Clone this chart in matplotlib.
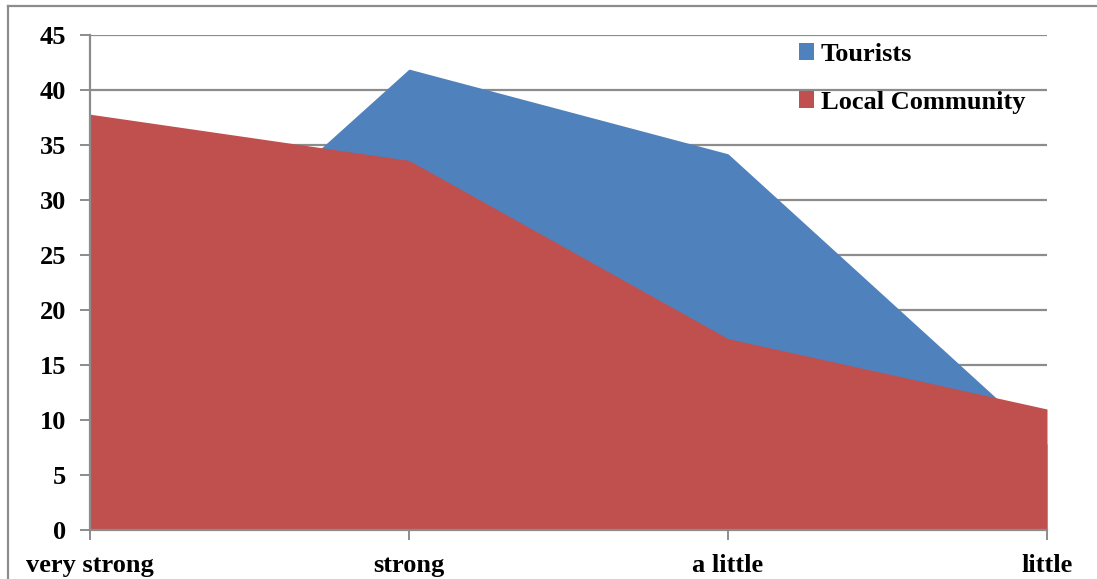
import matplotlib.pyplot as plt
from matplotlib.patches import Patch
from matplotlib.lines import Line2D

# data
categories = ['very strong', 'strong', 'a little', 'little']
tourists = [15.8, 41.9, 34.2, 7.8]
local_community = [37.8, 33.6, 17.4, 11.0]

blue = '#4F81BD'
red = '#C0504D'
grid_gray = '#8C8C8C'

plt.rcParams['font.family'] = ['Liberation Serif', 'DejaVu Serif']
plt.rcParams['font.weight'] = 'bold'

fig = plt.figure(figsize=(10.97, 5.79), dpi=100)
ax = fig.add_axes([90 / 1097, 1 - 530 / 579, (1047 - 90) / 1097, (530 - 35) / 579])

x = list(range(len(categories)))
ax.fill_between(x, 0, tourists, color=blue, linewidth=0, zorder=2)
ax.fill_between(x, 0, local_community, color=red, linewidth=0, zorder=3)

ax.set_xlim(0, len(categories) - 1)
ax.set_ylim(0, 45)
ax.set_yticks(range(0, 46, 5))
ax.set_xticks(x)
ax.set_xticklabels(categories)

ax.yaxis.grid(True, color=grid_gray, linewidth=1.6, zorder=1)
ax.set_axisbelow(True)
for side in ['top', 'right']:
    ax.spines[side].set_visible(False)
for side in ['left', 'bottom']:
    ax.spines[side].set_color(grid_gray)
    ax.spines[side].set_linewidth(1.6)
    ax.spines[side].set_zorder(4)

ax.tick_params(axis='both', colors=grid_gray, labelcolor='black', labelsize=19,
               length=7, width=1.4)
ax.tick_params(axis='y', pad=10)
ax.tick_params(axis='x', pad=10)
for lbl in ax.get_xticklabels() + ax.get_yticklabels():
    lbl.set_fontweight('bold')

# legend in the upper right
handles = [Patch(facecolor=blue, edgecolor='none'), Patch(facecolor=red, edgecolor='none')]
leg = ax.legend(handles, ['Tourists', 'Local Community'], loc='upper left',
                bbox_to_anchor=((788 - 90) / (1047 - 90), 1 + 3 / 495),
                frameon=False, fontsize=19, handlelength=0.6, handleheight=0.6,
                handletextpad=0.25, labelspacing=0.95, borderaxespad=0)
for t in leg.get_texts():
    t.set_fontweight('bold')

# outer chart border (left and top only visible)
fig.add_artist(Line2D([8 / 1097, 8 / 1097], [0, 1 - 6 / 579], transform=fig.transFigure,
                      color=grid_gray, linewidth=1.6))
fig.add_artist(Line2D([8 / 1097, 1], [1 - 6 / 579, 1 - 6 / 579], transform=fig.transFigure,
                      color=grid_gray, linewidth=1.6))

fig.savefig('out.png', dpi=100)
